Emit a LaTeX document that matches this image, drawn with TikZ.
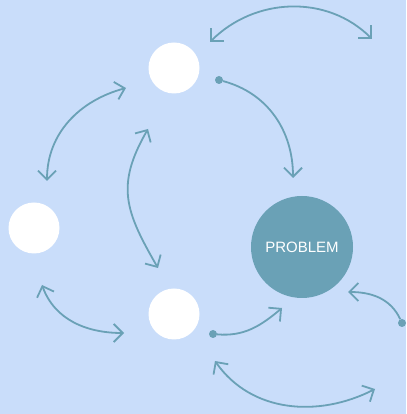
\documentclass[tikz,border=0pt]{standalone}
\usepackage{fontspec}
\usepackage{tikz}
\usetikzlibrary{arrows.meta}
\newfontfamily\probfont{Liberation Sans}
\definecolor{bgblue}{HTML}{C9DDFA}
\definecolor{teal}{HTML}{6AA1B6}

\begin{document}
\begin{tikzpicture}[x=1pt, y=1pt]
  \tikzset{every node/.style={circle, inner sep=0pt},
           idea/.style={fill=white, minimum size=51pt},
           dot/.style={fill=teal, minimum size=8pt},
           link/.style={draw=teal, line width=1.8pt, {Straight Barb[length=9pt,width=18pt]}-{Straight Barb[length=9pt,width=18pt]}},
           feed/.style={draw=teal, line width=1.8pt, -{Straight Barb[length=9pt,width=18pt]}}}
  \fill[bgblue] (0,0) rectangle (406,414);
  \useasboundingbox (0,0) rectangle (406,414);
  \node[idea] (top) at (174,346) {};
  \node[idea] (left) at (34,186) {};
  \node[idea] (low) at (174,100) {};
  \node[fill=teal, minimum size=102pt, text=white] (prob) at (302,167) {\probfont\fontsize{15}{18}\selectfont PROBLEM};
  \node[dot] (d1) at (219,334) {};
  \node[dot] (d2) at (213,80) {};
  \node[dot] (d3) at (402,91) {};
  \coordinate (t1) at (210,372);
  \coordinate (t2) at (372,375);
  \coordinate (l1) at (47,233);
  \coordinate (l2) at (126,326);
  \coordinate (m1) at (158,146);
  \coordinate (m2) at (148,285);
  \coordinate (b1) at (42,129);
  \coordinate (b2) at (124,81);
  \coordinate (r1) at (215,53);
  \coordinate (r2) at (375,25);
  \coordinate (p1) at (293,236);
  \coordinate (p2) at (282,106);
  \coordinate (p3) at (348,122);
  \draw[link] (t1) to[out=45, in=135] (t2);
  \draw[link] (l1) to[out=90, in=195] (l2);
  \draw[link] (m1) to[out=120, in=240, looseness=1.2] (m2);
  \draw[link] (b1) to[out=-70, in=180] (b2);
  \draw[link] (r1) to[out=-55, in=207] (r2);
  \draw[feed] (d1) to[out=-15, in=90] (p1);
  \draw[feed] (d2) to[out=-5, in=220] (p2);
  \draw[feed] (d3) to[out=115, in=0] (p3);
\end{tikzpicture}
\end{document}
